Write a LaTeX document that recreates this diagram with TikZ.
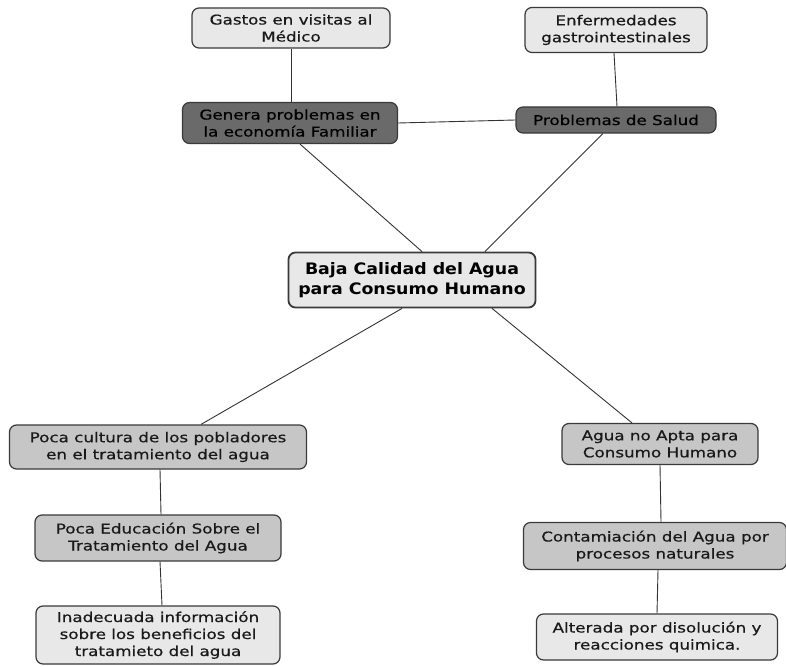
\documentclass[tikz,border=0pt]{standalone}
\usepackage{fontspec}
\setmainfont{DejaVu Sans}[FakeStretch=1.24,FakeBold=0.5]
\newfontfamily\titlefont{DejaVu Sans}[FakeStretch=1.1]
\definecolor{boxlight}{HTML}{E8E8E8}
\definecolor{boxmid}{HTML}{C6C6C6}
\definecolor{boxdark}{HTML}{6A6A6A}
\definecolor{edgegray}{HTML}{3A3A3A}
\definecolor{linkgray}{HTML}{333333}
\begin{document}
\begin{tikzpicture}[x=1pt,y=-1pt,
  box/.style={draw=edgegray,line width=1.2pt,rounded corners=7pt,align=center,
    inner sep=0pt,font=\fontsize{13.5}{17}\selectfont,text=black!90},
  light/.style={box,fill=boxlight},
  mid/.style={box,fill=boxmid},
  dark/.style={box,fill=boxdark,text=black},
  mainbox/.style={box,fill=boxlight,line width=1.8pt,text=black,
    font=\titlefont\bfseries\fontsize{15.8}{20}\selectfont},
  link/.style={draw=linkgray,line width=0.9pt}]
\useasboundingbox[fill=white] (0,0) rectangle (786,666);

% upper branch
\node[light,minimum width=198,minimum height=40] (gastos) at (291,28) {Gastos en visitas al\\Médico};
\node[light,minimum width=182,minimum height=45] (enferm) at (616,30) {Enfermedades\\gastrointestinales};
\node[dark,minimum width=215,minimum height=41] (genera) at (290,123) {Genera problemas en\\la economía Familiar};
\node[dark,minimum width=200,minimum height=26] (salud) at (616,120) {Problemas de Salud};

% central problem
\node[mainbox,minimum width=247,minimum height=55] (baja) at (412,280) {Baja Calidad del Agua\\para Consumo Humano};

% lower left branch
\node[mid,minimum width=297,minimum height=44] (cultura) at (158,447) {Poca cultura de los pobladores\\en el tratamiento del agua};
\node[mid,minimum width=246,minimum height=46] (educ) at (158,538) {Poca Educación Sobre el\\Tratamiento del Agua};
\node[light,minimum width=244,minimum height=58] (inad) at (158,635) {Inadecuada información\\sobre los beneficios del\\tratamieto del agua};

% lower right branch
\node[mid,minimum width=196,minimum height=41] (agua) at (660,444) {Agua no Apta para\\Consumo Humano};
\node[mid,minimum width=263,minimum height=47] (contam) at (655,546) {Contamiación del Agua por\\procesos naturales};
\node[light,minimum width=241,minimum height=46] (alter) at (657,637) {Alterada por disolución y\\reacciones quimica.};

% connectors
\draw[link] (gastos.south) -- (gastos.south |- genera.north);
\draw[link] ([xshift=-2pt]enferm.south) -- ([xshift=1pt]salud.north);
\draw[link] (genera.east) -- (salud.west);
\draw[link] ([xshift=10pt]genera.south) -- ([xshift=10pt]baja.north);
\draw[link] ([xshift=-13pt]salud.south) -- ([xshift=73pt]baja.north);
\draw[link] ([xshift=-10pt]baja.south) -- ([xshift=43pt]cultura.north);
\draw[link] ([xshift=80pt]baja.south) -- ([xshift=-28pt]agua.north);
\draw[link] ([xshift=2pt]cultura.south) -- ([xshift=3pt]educ.north);
\draw[link] ([xshift=2pt]educ.south) -- ([xshift=4pt]inad.north);
\draw[link] (agua.south) -- ([xshift=6pt]contam.north);
\draw[link] ([xshift=3pt]contam.south) -- (alter.north);
\end{tikzpicture}
\end{document}
